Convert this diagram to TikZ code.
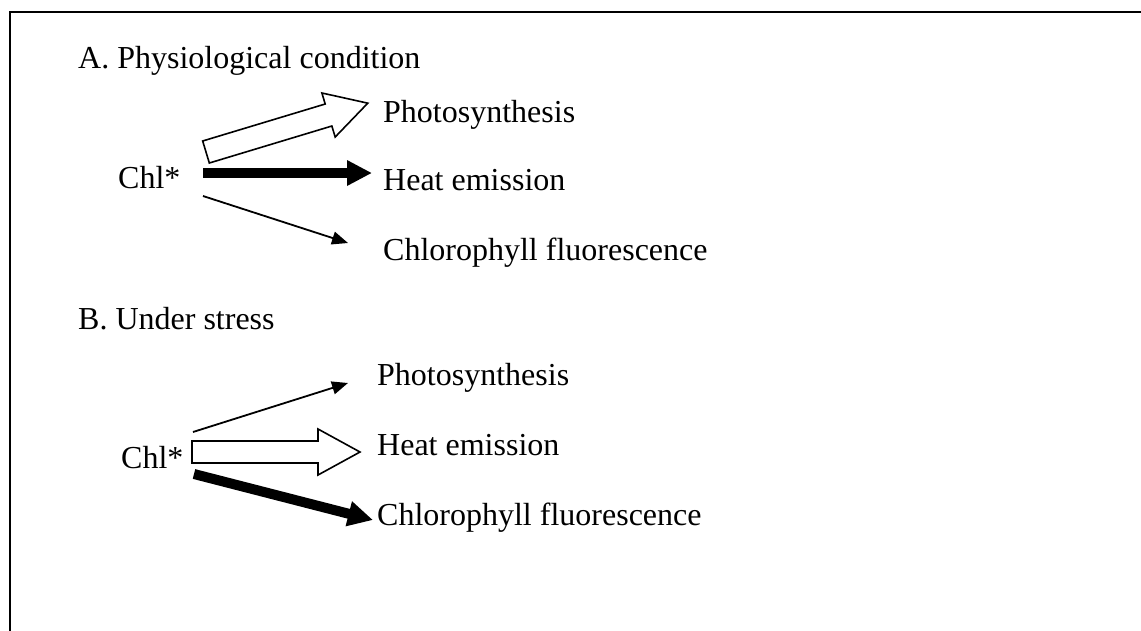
\documentclass[tikz,border=0pt]{standalone}
\usepackage{fontspec}
\setmainfont{Liberation Serif}
\usetikzlibrary{arrows.meta}
\begin{document}
\begin{tikzpicture}[x=1pt,y=-1pt,
  lbl/.style={anchor=base west,inner sep=0pt,font=\fontsize{32}{38}\selectfont},
  framel/.style={line width=2pt,line cap=rect},
  thinarr/.style={line width=1.8pt,-{Triangle[length=16pt,width=13pt]}},
  thickarr/.style={line width=10pt,-{Triangle[length=25pt,width=24pt]}},
  hollowarr/.style={draw=black,fill=white,line width=1.6pt,line join=miter}]
\useasboundingbox (0,0) rectangle (1141,630);
% frame (only left and top edges visible)
\coordinate (fc) at (10,12);
\coordinate (fb) at (10,632);
\coordinate (fr) at (1143,12);
\draw[framel] (fb) -- (fc) -- (fr);
% Part A
\node[lbl] (titleA) at (78,68) {A. Physiological condition};
\node[lbl] (chlA) at (118,188) {Chl*};
\node[lbl] (phA) at (383,122) {Photosynthesis};
\node[lbl] (heA) at (383,190) {Heat emission};
\node[lbl] (cfA) at (383,260) {Chlorophyll fluorescence};
\begin{scope}[shift={(206,152)},rotate=16.8]
  \draw[hollowarr] (0,-11.5) -- (128,-11.5) -- (128,-23) -- (169,0) -- (128,23) -- (128,11.5) -- (0,11.5) -- cycle;
\end{scope}
\coordinate (a2s) at (203,173);
\coordinate (a2e) at (372,173);
\draw[thickarr] (a2s) -- (a2e);
\coordinate (a3s) at (203,196);
\coordinate (a3e) at (348,243);
\draw[thinarr] (a3s) -- (a3e);
% Part B
\node[lbl] (titleB) at (78,329) {B. Under stress};
\node[lbl] (chlB) at (121,468) {Chl*};
\node[lbl] (phB) at (377,385) {Photosynthesis};
\node[lbl] (heB) at (377,455) {Heat emission};
\node[lbl] (cfB) at (377,525) {Chlorophyll fluorescence};
\coordinate (b1s) at (193,432);
\coordinate (b1e) at (348,383);
\draw[thinarr] (b1s) -- (b1e);
\begin{scope}[shift={(192,452)}]
  \draw[hollowarr] (0,-11) -- (126,-11) -- (126,-23) -- (168,0) -- (126,23) -- (126,11) -- (0,11) -- cycle;
\end{scope}
\coordinate (b3s) at (194,474);
\coordinate (b3e) at (373,520);
\draw[thickarr] (b3s) -- (b3e);
\end{tikzpicture}
\end{document}
